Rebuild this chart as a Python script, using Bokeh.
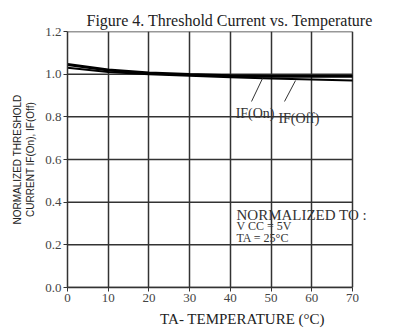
from bokeh.plotting import figure
from bokeh.models import Label, Range1d, FixedTicker, ColumnDataSource
from bokeh.embed import file_html
from bokeh.resources import INLINE

temperature = [0, 10, 20, 30, 40, 50, 60, 70]
if_on = [1.045, 1.02, 1.005, 0.998, 0.993, 0.99, 0.99, 0.99]
if_off = [1.03, 1.01, 1.0, 0.993, 0.985, 0.98, 0.975, 0.97]
x_ticks = [0, 10, 20, 30, 40, 50, 60, 70]
y_ticks = [0.0, 0.2, 0.4, 0.6, 0.8, 1.0, 1.2]
x_min, x_max = 0, 70

# annotation anchors (data units)
label_on = (41.3, 0.815, "IF(On)")
label_off = (51.8, 0.79, "IF(Off)")
leaders_x0 = [45.2, 53.3]
leaders_y0 = [0.872, 0.872]
leaders_x1 = [47.9, 56.0]
leaders_y1 = [0.98, 0.97]
note_lines = [("NORMALIZED TO :", 0.338, "15px"), ("V CC = 5V", 0.288, "12px"), ("TA = 25°C", 0.232, "12px")]
note_x = 41.5

SERIF = "Liberation Serif"
INK = "#222222"
GRID = "#333333"

# frame extends to the right edge so that the note text is not clipped;
# the chart box itself is drawn from 0..70
plot_w, frame_left, frame_right_ref = 417, 67, 352
x_view_end = x_max * (plot_w - frame_left) / (frame_right_ref - frame_left)

p = figure(width=plot_w, height=334, output_backend="svg", toolbar_location=None,
           x_range=Range1d(0, x_view_end), y_range=Range1d(0, 1.2),
           min_border_left=frame_left, min_border_right=0, min_border_top=31, min_border_bottom=47)

p.title.text = "Figure 4. Threshold Current vs. Temperature"
p.title.text_font = SERIF
p.title.text_font_size = "16px"
p.title.text_font_style = "normal"
p.title.text_color = INK
p.title.align = "left"
p.title.offset = 19
p.title.standoff = 6

p.outline_line_color = None
p.background_fill_color = "white"
p.border_fill_color = "white"

p.xgrid.ticker = FixedTicker(ticks=x_ticks)
p.xgrid.grid_line_color = GRID
p.xgrid.grid_line_width = 1.5
p.ygrid.grid_line_color = None

# horizontal grid lines limited to the chart box
hsrc = ColumnDataSource(dict(x0=[x_min] * len(y_ticks), x1=[x_max] * len(y_ticks), y=y_ticks))
p.segment(x0="x0", y0="y", x1="x1", y1="y", source=hsrc, line_color=GRID, line_width=1.5)

for ax in (p.xaxis[0], p.yaxis[0]):
    ax.major_label_text_font = SERIF
    ax.major_label_text_font_size = "13px"
    ax.major_label_text_color = "#444444"
    ax.minor_tick_line_color = None
    ax.axis_line_color = GRID
    ax.axis_line_width = 1.5
    ax.major_tick_line_color = GRID
    ax.major_tick_in = 0
    ax.major_tick_out = 4

p.xaxis.ticker = FixedTicker(ticks=x_ticks)
p.xaxis.bounds = (x_min, x_max)
p.yaxis.ticker = FixedTicker(ticks=y_ticks)
p.yaxis.major_label_overrides = {t: f"{t:.1f}" for t in y_ticks}
p.xaxis.major_label_standoff = 2
p.yaxis.major_label_standoff = 2

p.xaxis.axis_label = "TA- TEMPERATURE (°C)"
p.xaxis.axis_label_text_font = SERIF
p.xaxis.axis_label_text_font_size = "15px"
p.xaxis.axis_label_text_font_style = "normal"
p.xaxis.axis_label_text_color = INK
p.xaxis.axis_label_standoff = 6

p.yaxis.axis_label = "NORMALIZED THRESHOLD\nCURRENT IF(On), IF(Off)"
p.yaxis.axis_label_text_font = "Liberation Sans"
p.yaxis.axis_label_text_font_size = "10px"
p.yaxis.axis_label_text_font_style = "normal"
p.yaxis.axis_label_text_color = INK
p.yaxis.axis_label_standoff = 6

p.line(temperature, if_on, line_color="black", line_width=3)
p.line(temperature, if_off, line_color="black", line_width=2)

src = ColumnDataSource(dict(x0=leaders_x0, y0=leaders_y0, x1=leaders_x1, y1=leaders_y1))
p.segment(x0="x0", y0="y0", x1="x1", y1="y1", source=src, line_color="#333333", line_width=1)

for (lx, ly, txt) in (label_on, label_off):
    p.add_layout(Label(x=lx, y=ly, text=txt, text_font=SERIF, text_font_size="14px",
                       text_color="#333333", text_baseline="middle"))

for txt, ly, fs in note_lines:
    p.add_layout(Label(x=note_x, y=ly, text=txt, text_font=SERIF, text_font_size=fs,
                       text_color="#333333", text_baseline="middle"))

open("out.html", "w").write(file_html(p, INLINE))
